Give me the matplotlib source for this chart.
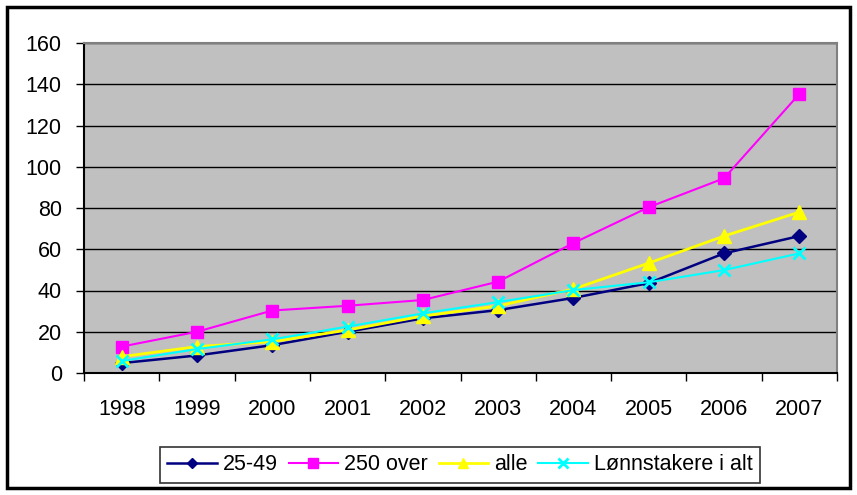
import matplotlib
matplotlib.use("Agg")
import matplotlib.pyplot as plt
from matplotlib.patches import Rectangle

years = ["1998", "1999", "2000", "2001", "2002", "2003", "2004", "2005", "2006", "2007"]
s_25_49 = [4.8, 8.5, 13.5, 20.0, 26.5, 30.5, 36.4, 43.6, 58.0, 66.4]
s_250_over = [12.8, 20.0, 30.3, 32.6, 35.4, 44.3, 63.0, 80.4, 94.4, 135.3]
s_alle = [7.9, 12.8, 15.2, 20.8, 27.6, 32.5, 40.7, 53.3, 66.4, 78.0]
s_lonn = [5.8, 11.6, 16.3, 22.5, 28.9, 34.4, 40.2, 44.0, 49.9, 58.0]
y_ticks = [0, 20, 40, 60, 80, 100, 120, 140, 160]

plt.rcParams["font.family"] = ["Liberation Sans", "DejaVu Sans"]

fig = plt.figure(figsize=(8.57, 4.95), dpi=100)
ax = fig.add_axes([84 / 857, (495 - 373) / 495, (837 - 84) / 857, (373 - 43) / 495])
ax.set_facecolor("#C0C0C0")

x = list(range(len(years)))
ax.plot(x, s_25_49, color="#000080", marker="D", markersize=7, lw=1.8, label="25-49")
ax.plot(x, s_250_over, color="#FF00FF", marker="s", markersize=9, lw=1.5, label="250 over")
ax.plot(x, s_alle, color="#FFFF00", marker="^", markersize=10, lw=2, label="alle")
ax.plot(x, s_lonn, color="#00FFFF", marker="x", markersize=9, mew=2, lw=1.5, label="Lønnstakere i alt")

ax.set_ylim(0, 160)
ax.set_yticks(y_ticks)
ax.set_xlim(-0.5, len(years) - 0.5)
ax.set_xticks([i - 0.5 for i in range(len(years) + 1)])
ax.set_xticklabels([])
ax.set_xticks(x, minor=True)
ax.set_xticklabels(years, minor=True)
ax.tick_params(axis="x", which="minor", length=0, pad=19, labelsize=15.5)
ax.tick_params(axis="x", which="major", direction="out", length=6, width=1)
ax.tick_params(axis="y", direction="out", length=6, width=1, labelsize=15.5, pad=10)
ax.yaxis.grid(True, color="black", lw=1)
ax.set_axisbelow(True)

ax.spines["left"].set_color("black")
ax.spines["bottom"].set_color("black")
ax.spines["top"].set_color("#808080")
ax.spines["right"].set_color("#808080")
for sp in ax.spines.values():
    sp.set_linewidth(1.5)

leg = fig.legend(loc="center", bbox_to_anchor=(460 / 857, 1 - 465 / 495), ncol=4,
                 fontsize=15.5, frameon=True, fancybox=False, edgecolor="black",
                 handlelength=2.3, handletextpad=0.28, columnspacing=0.5,
                 borderpad=0.35, markerscale=0.75)
leg.get_frame().set_linewidth(1.2)

fig.patches.append(Rectangle((7 / 857, 7 / 495), 843 / 857, 481 / 495, transform=fig.transFigure,
                             fill=False, edgecolor="black", lw=2.5))

fig.savefig("out.png", dpi=100)
